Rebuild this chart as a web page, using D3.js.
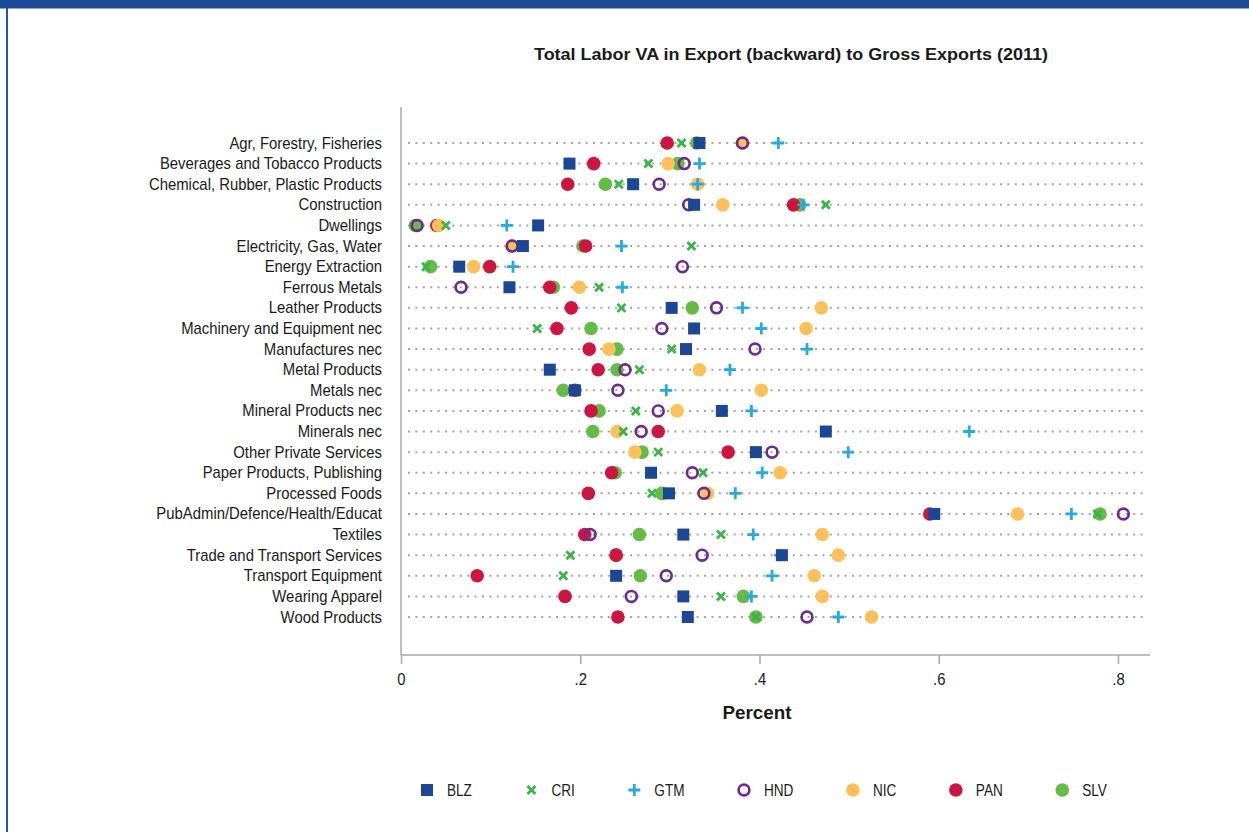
<!DOCTYPE html>
<html><head><meta charset="utf-8">
<script src="https://cdn.jsdelivr.net/npm/d3@7"></script>
<style>
body{margin:0;background:#fff;}
svg{display:block;}
text{font-family:"Liberation Sans", Arial, sans-serif; fill:#1a1a1a;}
</style>
</head><body>
<svg id="c" width="1249" height="832"></svg>
<script>
const categories = ["Agr, Forestry, Fisheries","Beverages and Tobacco Products","Chemical, Rubber, Plastic Products","Construction","Dwellings","Electricity, Gas, Water","Energy Extraction","Ferrous Metals","Leather Products","Machinery and Equipment nec","Manufactures nec","Metal Products","Metals nec","Mineral Products nec","Minerals nec","Other Private Services","Paper Products, Publishing","Processed Foods","PubAdmin/Defence/Health/Educat","Textiles","Trade and Transport Services","Transport Equipment","Wearing Apparel","Wood Products"];

const BLZ = [.333,.188,.259,.327,.153,.136,.065,.121,.302,.327,.318,.166,.194,.358,.474,.396,.279,.299,.595,.315,.425,.240,.315,.320];
const CRI = [.313,.276,.243,.474,.050,.324,.028,.221,.246,.152,.302,.266,.195,.262,.248,.287,.337,.280,.777,.357,.189,.181,.357,.396];
const GTM = [.421,.333,.331,.449,.118,.246,.125,.247,.381,.402,.453,.367,.296,.391,.634,.499,.403,.373,.748,.393,.423,.414,.391,.488];
const HND = [.381,.316,.288,.321,.018,.124,.314,.067,.352,.291,.395,.250,.242,.287,.268,.414,.325,.338,.806,.211,.336,.296,.257,.453];
const NIC = [.381,.298,.331,.359,.042,.124,.081,.199,.469,.452,.232,.333,.402,.308,.241,.261,.423,.342,.688,.470,.488,.461,.470,.525];
const PAN = [.297,.215,.186,.438,.040,.206,.099,.166,.190,.174,.210,.220,.194,.212,.287,.365,.235,.209,.590,.205,.240,.085,.183,.242];
const SLV = [.330,.309,.228,.445,.016,.203,.033,.170,.325,.212,.241,.241,.181,.221,.214,.269,.239,.291,.780,.266,.240,.267,.382,.396];

const seriesNames = ["BLZ","CRI","GTM","HND","NIC","PAN","SLV"];
const seriesData = {BLZ, CRI, GTM, HND, NIC, PAN, SLV};
const xTicks = [0, .2, .4, .6, .8];
const xTickLabels = ["0", ".2", ".4", ".6", ".8"];
const chartTitle = "Total Labor VA in Export (backward) to Gross Exports  (2011)";
const xTitle = "Percent";

const colors = {BLZ:"#1b4795", CRI:"#3bb54a", GTM:"#27a9e1", HND:"#6d2b8f", NIC:"#fdc05a", PAN:"#cd163f", SLV:"#64bb46"};
const shapes = {BLZ:"square", CRI:"x", GTM:"plus", HND:"hollow", NIC:"circle", PAN:"circle", SLV:"circle"};
const drawOrder = ["SLV","PAN","NIC","HND","GTM","CRI","BLZ"];
const SX = 0.93; // condensed look
const LSX = 0.85;

const svg = d3.select("#c");
// frame
svg.append("rect").attr("x",0).attr("y",0).attr("width",1249).attr("height",8).attr("fill","#1c4996");
svg.append("rect").attr("x",0).attr("y",8).attr("width",1249).attr("height",1).attr("fill","#8fa6d4");
svg.append("rect").attr("x",6).attr("y",8).attr("width",2).attr("height",824).attr("fill","#2152c0");

const x = d3.scaleLinear().domain([0, 0.8]).range([401, 1118]);
const y = d3.scalePoint().domain(categories).range([143, 617]);
const axisY = 655, plotRight = 1150, plotTop = 107;

// title
svg.append("text").attr("x",791).attr("y",60).attr("text-anchor","middle")
  .attr("font-size",17).attr("font-weight","bold")
  .attr("textLength",514).attr("lengthAdjust","spacingAndGlyphs").text(chartTitle);

// dotted grid lines
svg.append("g").selectAll("line").data(categories).join("line")
  .attr("x1",408).attr("x2",1146).attr("y1",d=>y(d)).attr("y2",d=>y(d))
  .attr("stroke","#a3a3a3").attr("stroke-width",2).attr("stroke-dasharray","2 5.4");

// y axis line
svg.append("line").attr("x1",x(0)).attr("x2",x(0)).attr("y1",plotTop).attr("y2",axisY)
  .attr("stroke","#a8a8a8").attr("stroke-width",1.5);
// x axis line
svg.append("line").attr("x1",x(0)).attr("x2",plotRight).attr("y1",axisY).attr("y2",axisY)
  .attr("stroke","#a8a8a8").attr("stroke-width",1.5);

const xAxis = d3.axisBottom(x).tickValues(xTicks).tickFormat((d,i)=>xTickLabels[i]).tickSize(9).tickPadding(10);
const gx = svg.append("g").attr("transform",`translate(0,${axisY})`).call(xAxis);
gx.select(".domain").remove();
gx.selectAll(".tick line").attr("stroke","#a8a8a8").attr("stroke-width",1.5);
gx.selectAll(".tick text").attr("font-size",16).attr("font-family","Liberation Sans, Arial, sans-serif")
  .attr("fill","#1a1a1a").attr("transform",`scale(${SX},1)`);

svg.append("text").attr("x",757).attr("y",719).attr("text-anchor","middle")
  .attr("font-size",18).attr("font-weight","bold")
  .attr("textLength",69).attr("lengthAdjust","spacingAndGlyphs").text(xTitle);

// category labels
svg.append("g").selectAll("text").data(categories).join("text")
  .attr("transform",d=>`translate(382,${y(d)+5.5}) scale(${SX},1)`)
  .attr("text-anchor","end").attr("font-size",16).text(d=>d);

function drawMarker(g, shape, color){
  if(shape==="square"){
    g.append("rect").attr("x",-6).attr("y",-6).attr("width",12).attr("height",12).attr("fill",color);
  } else if(shape==="circle"){
    g.append("circle").attr("r",6.8).attr("fill",color);
  } else if(shape==="hollow"){
    g.append("circle").attr("r",5.4).attr("fill","none").attr("stroke",color).attr("stroke-width",2.7);
  } else if(shape==="x"){
    g.append("path").attr("d","M-4,-4L4,4M-4,4L4,-4").attr("stroke",color).attr("stroke-width",2.8).attr("fill","none");
  } else if(shape==="plus"){
    g.append("path").attr("d","M-6,0H6M0,-6V6").attr("stroke",color).attr("stroke-width",2.8).attr("fill","none");
  }
}

const marks = svg.append("g");
drawOrder.forEach(name=>{
  const vals = seriesData[name];
  categories.forEach((c,i)=>{
    const g = marks.append("g").attr("transform",`translate(${x(vals[i])},${y(c)})`);
    drawMarker(g, shapes[name], colors[name]);
  });
});

// legend
const leg = svg.append("g");
let lx = 427; const ly = 790;
seriesNames.forEach(name=>{
  const g = leg.append("g").attr("transform",`translate(${lx},${ly})`);
  drawMarker(g, shapes[name], colors[name]);
  const t = leg.append("text").attr("transform",`translate(${lx+20},${ly+6}) scale(${LSX},1)`)
    .attr("font-size",16).text(name);
  const w = t.node().getComputedTextLength()*LSX;
  lx = lx + 20 + w + 59.5;
});
</script>
</body></html>
